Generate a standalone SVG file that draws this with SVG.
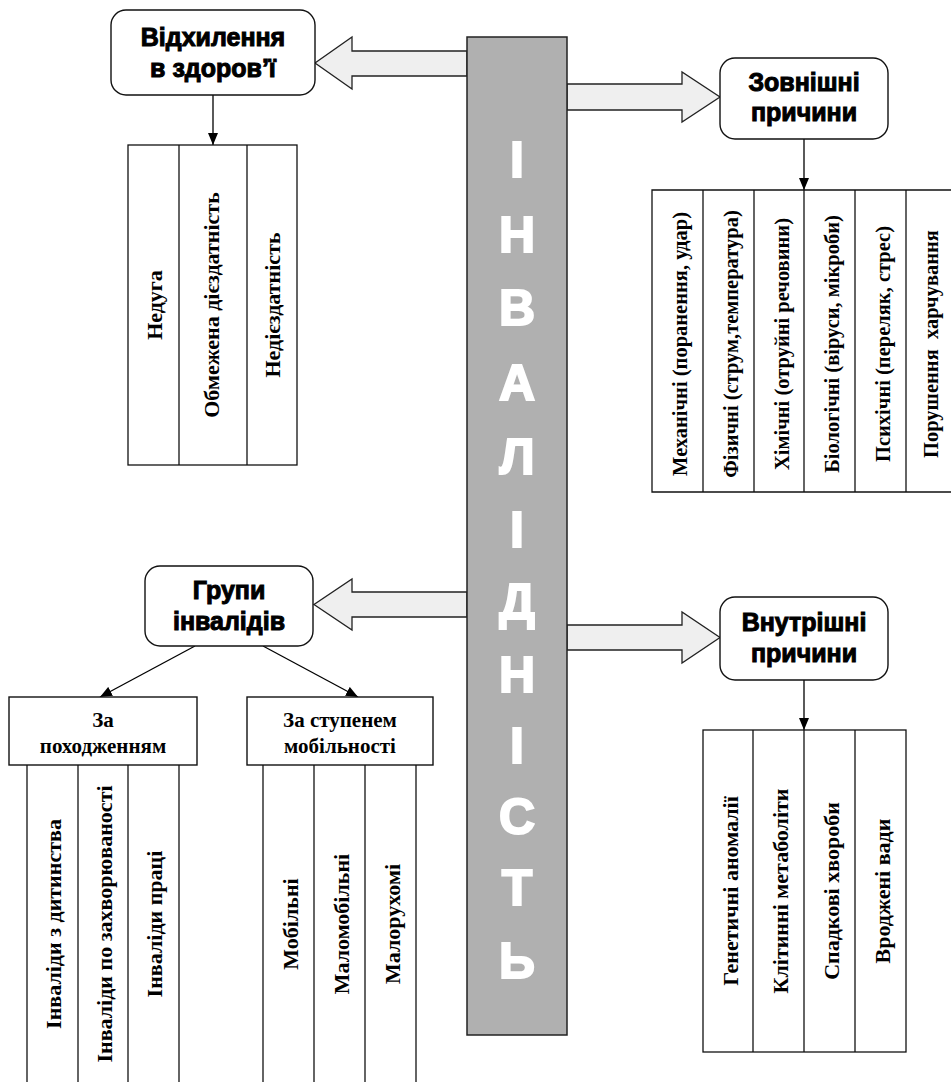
<svg xmlns="http://www.w3.org/2000/svg" width="951" height="1082" viewBox="0 0 951 1082">
<defs>
<marker id="ah" viewBox="0 0 12 10" refX="12" refY="5" markerWidth="12" markerHeight="10" markerUnits="userSpaceOnUse" orient="auto"><path d="M0,0 L12,5 L0,10 Z" fill="#000"/></marker>
<style>
.box{fill:#fff;stroke:#111;stroke-width:1.4}
.blk{fill:#efefef;stroke:#222;stroke-width:1.3}
.hd{font-family:"Liberation Sans",Arial,sans-serif;font-weight:bold;font-size:25px;fill:#000;stroke:#000;stroke-width:1;text-anchor:middle}
.tb{fill:none;stroke:#111;stroke-width:1.3}
.tx{font-family:"Liberation Serif","Times New Roman",serif;font-weight:bold;font-size:22px;fill:#000;text-anchor:middle}
.s20{font-size:20.5px}
.s21{font-size:21px}
.bar{fill:#b0b0b0;stroke:#222;stroke-width:1.5}
.bl{font-family:"Liberation Sans",Arial,sans-serif;font-weight:bold;font-size:50px;fill:#fff;stroke:#fff;stroke-width:2;text-anchor:middle}
.cn{fill:none;stroke:#000;stroke-width:1.3;marker-end:url(#ah)}
</style>
</defs>
<rect width="951" height="1082" fill="#fff"/>
<g id="connectors">
<path class="blk" d="M467,51 L352,51 L352,37 L315,63 L352,89 L352,76 L467,76 Z"/>
<path class="blk" d="M567,84 L682,84 L682,72 L720,97 L682,122 L682,110 L567,110 Z"/>
<path class="blk" d="M467,592 L352,592 L352,579 L314,604.5 L352,630 L352,617 L467,617 Z"/>
<path class="blk" d="M567,625 L682,625 L682,612 L720,637.5 L682,663 L682,650 L567,650 Z"/>
<line class="cn" x1="213" y1="95" x2="213" y2="145"/>
<line class="cn" x1="804" y1="139" x2="804" y2="190"/>
<line class="cn" x1="804" y1="680" x2="804" y2="730"/>
<line class="cn" x1="195" y1="646" x2="100" y2="697"/>
<line class="cn" x1="263" y1="646" x2="358" y2="697"/>
</g>
<g id="disability">
<rect class="bar" x="467" y="37" width="100" height="998"/>
<text class="bl" x="517" y="177">І</text>
<text class="bl" x="517" y="252">Н</text>
<text class="bl" x="517" y="325">В</text>
<text class="bl" x="517" y="400">А</text>
<text class="bl" x="517" y="474">Л</text>
<text class="bl" x="517" y="547">І</text>
<text class="bl" x="517" y="619">Д</text>
<text class="bl" x="517" y="692">Н</text>
<text class="bl" x="517" y="763">І</text>
<text class="bl" x="517" y="834">С</text>
<text class="bl" x="517" y="905">Т</text>
<text class="bl" x="517" y="978">Ь</text>
</g>
<g id="deviation">
<rect class="box" x="111" y="10" width="204" height="85" rx="15"/>
<text class="hd" x="213" y="46">Відхилення</text>
<text class="hd" x="213" y="77">в здоров’ї</text>
</g>
<g id="deviation-table">
<rect class="tb" x="128" y="145" width="169" height="320"/>
<line class="tb" x1="179" y1="145" x2="179" y2="465"/>
<line class="tb" x1="247" y1="145" x2="247" y2="465"/>
<text class="tx" transform="translate(162,305) rotate(-90)">Недуга</text>
<text class="tx" transform="translate(219,305) rotate(-90)">Обмежена дієздатність</text>
<text class="tx" transform="translate(280,305) rotate(-90)">Недієздатність</text>
</g>
<g id="external">
<rect class="box" x="720" y="58" width="168" height="81" rx="15"/>
<text class="hd" x="804" y="91">Зовнішні</text>
<text class="hd" x="804" y="121">причини</text>
</g>
<g id="external-table">
<path class="tb" d="M951,190 L652,190 L652,492 L951,492"/>
<line class="tb" x1="703" y1="190" x2="703" y2="492"/>
<line class="tb" x1="754" y1="190" x2="754" y2="492"/>
<line class="tb" x1="804" y1="190" x2="804" y2="492"/>
<line class="tb" x1="855" y1="190" x2="855" y2="492"/>
<line class="tb" x1="906" y1="190" x2="906" y2="492"/>
<text class="tx s20" transform="translate(687,344) rotate(-90)">Механічні (поранення, удар)</text>
<text class="tx s20" transform="translate(738,344) rotate(-90)">Фізичні (струм,температура)</text>
<text class="tx s20" transform="translate(788.5,344) rotate(-90)">Хімічні (отруйні речовини)</text>
<text class="tx s20" transform="translate(839,344) rotate(-90)">Біологічні (віруси, мікроби)</text>
<text class="tx s20" transform="translate(890,344) rotate(-90)">Психічні (переляк, стрес)</text>
<text class="tx s20" transform="translate(938,344) rotate(-90)" xml:space="preserve">Порушення  харчування</text>
</g>
<g id="groups">
<rect class="box" x="145" y="566" width="168" height="80" rx="15"/>
<text class="hd" x="229" y="599">Групи</text>
<text class="hd" x="229" y="630">інвалідів</text>
</g>
<g id="internal">
<rect class="box" x="720" y="597" width="168" height="83" rx="15"/>
<text class="hd" x="804" y="631">Внутрішні</text>
<text class="hd" x="804" y="662">причини</text>
</g>
<g id="internal-table">
<rect class="tb" x="703" y="730" width="203" height="322"/>
<line class="tb" x1="753" y1="730" x2="753" y2="1052"/>
<line class="tb" x1="804" y1="730" x2="804" y2="1052"/>
<line class="tb" x1="855" y1="730" x2="855" y2="1052"/>
<text class="tx" transform="translate(737.5,891) rotate(-90)">Генетичні аномалії</text>
<text class="tx" transform="translate(788,891) rotate(-90)">Клітинні метаболіти</text>
<text class="tx" transform="translate(839,891) rotate(-90)">Спадкові хвороби</text>
<text class="tx" transform="translate(890,891) rotate(-90)">Вроджені вади</text>
</g>
<g id="by-origin">
<rect class="box" x="9" y="697" width="188" height="68"/>
<text class="tx s21" x="103" y="727">За</text>
<text class="tx s21" x="103" y="753">походженням</text>
<line class="tb" x1="27" y1="765" x2="27" y2="1082"/>
<line class="tb" x1="78" y1="765" x2="78" y2="1082"/>
<line class="tb" x1="128" y1="765" x2="128" y2="1082"/>
<line class="tb" x1="179" y1="765" x2="179" y2="1082"/>
<text class="tx" transform="translate(61,924) rotate(-90)">Інваліди з дитинства</text>
<text class="tx" transform="translate(111.5,924) rotate(-90)">Інваліди по захворюваності</text>
<text class="tx" transform="translate(162,924) rotate(-90)">Інваліди праці</text>
</g>
<g id="by-mobility">
<rect class="box" x="247" y="697" width="186" height="68"/>
<text class="tx s21" x="340" y="727">За ступенем</text>
<text class="tx s21" x="340" y="753">мобільності</text>
<line class="tb" x1="263" y1="765" x2="263" y2="1082"/>
<line class="tb" x1="314" y1="765" x2="314" y2="1082"/>
<line class="tb" x1="365" y1="765" x2="365" y2="1082"/>
<line class="tb" x1="416" y1="765" x2="416" y2="1082"/>
<text class="tx" transform="translate(297.5,924) rotate(-90)">Мобільні</text>
<text class="tx" transform="translate(348.5,924) rotate(-90)">Маломобільні</text>
<text class="tx" transform="translate(399.5,924) rotate(-90)">Малорухомі</text>
</g>
</svg>
